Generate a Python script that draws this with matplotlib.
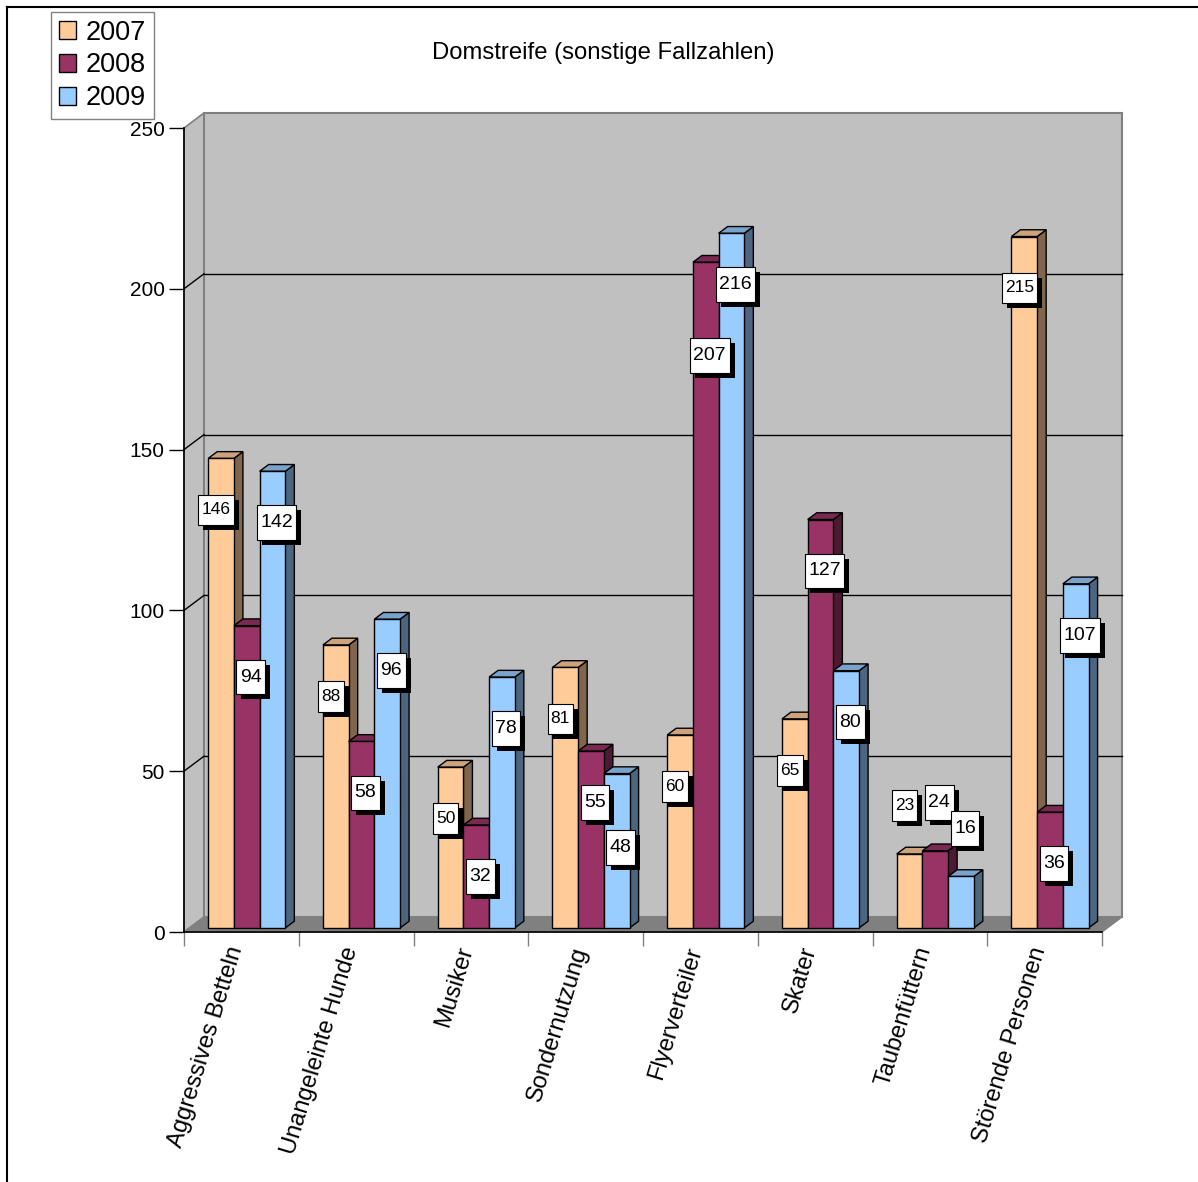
import matplotlib
matplotlib.use("Agg")
import matplotlib.pyplot as plt
from matplotlib.patches import Polygon, Patch
from matplotlib.lines import Line2D
from matplotlib.path import Path
from matplotlib.transforms import blended_transform_factory
import matplotlib.patheffects as pe

plt.rcParams['font.family'] = ['Liberation Sans', 'DejaVu Sans']

# === Data
categories = ["Aggressives Betteln", "Unangeleinte Hunde", "Musiker", "Sondernutzung",
              "Flyerverteiler", "Skater", "Taubenfüttern", "Störende Personen"]
years = ["2007", "2008", "2009"]
cases_2007 = [146, 88, 50, 81, 60, 65, 23, 215]
cases_2008 = [94, 58, 32, 55, 207, 127, 24, 36]
cases_2009 = [142, 96, 78, 48, 216, 80, 16, 107]
y_ticks = [0, 50, 100, 150, 200, 250]

series = [cases_2007, cases_2008, cases_2009]
front_colors = ["#FFCC99", "#993366", "#99CCFF"]
top_colors = ["#CCA37A", "#7A2952", "#7AA3CC"]
side_colors = ["#80664D", "#4D1A33", "#4D6680"]

W, H = 1198, 1182
fig = plt.figure(figsize=(W / 100, H / 100), dpi=100)
ax = fig.add_axes([184 / W, 1 - 932 / H, 918 / W, 804 / H])
ax.set_xlim(0, 8)
ax.set_ylim(0, 250)
ax.patch.set_alpha(0)

# depth of the 3d box in data units
DX = 20 / 114.75
DY = 15 / 3.216
F0, FD = 0.27, 0.45     # bars sit between these depth fractions
BW = 0.224              # bar width
n = len(categories)


def label_box(x0, y0, width, height, mutation_size):
    # rectangle with more room above/below than left/right
    px, py = 0.18 * mutation_size, 0.45 * mutation_size
    return Path([(x0 - px, y0 - py), (x0 + width + px, y0 - py),
                 (x0 + width + px, y0 + height + py), (x0 - px, y0 + height + py),
                 (x0 - px, y0 - py)], closed=True)


# === Walls and floor
wall = "#C0C0C0"
edge = "#808080"
ax.add_patch(Polygon([(0, 0), (DX, DY), (DX, 250 + DY), (0, 250)], closed=True,
                     facecolor=wall, edgecolor=edge, lw=1.2, clip_on=False, zorder=0.5))
ax.add_patch(Polygon([(DX, DY), (n + DX, DY), (n + DX, 250 + DY), (DX, 250 + DY)], closed=True,
                     facecolor=wall, edgecolor=edge, lw=1.5, clip_on=False, zorder=0.5))
ax.add_patch(Polygon([(0, 0), (n, 0), (n + DX, DY), (DX, DY)], closed=True,
                     facecolor="#808080", edgecolor=edge, lw=1, clip_on=False, zorder=0.6))
for v in y_ticks[1:-1]:
    ax.plot([DX, n + DX], [v + DY, v + DY], color="black", lw=1, clip_on=False, zorder=0.7)
    ax.plot([0, DX], [v, v + DY], color="black", lw=1, clip_on=False, zorder=0.7)

# === Bars (front face, right side, top)
dx, dy = FD * DX, FD * DY
y0 = F0 * DY
label_specs = []
for i in range(n):
    lab_y = []
    for j, vals in enumerate(series):
        v = vals[i]
        x0 = i + (1 - 3 * BW) / 2 + j * BW + F0 * DX
        side = [(x0 + BW, y0), (x0 + BW + dx, y0 + dy), (x0 + BW + dx, y0 + v + dy), (x0 + BW, y0 + v)]
        top = [(x0, y0 + v), (x0 + dx, y0 + v + dy), (x0 + BW + dx, y0 + v + dy), (x0 + BW, y0 + v)]
        ax.add_patch(Polygon(side, closed=True, facecolor=side_colors[j], edgecolor="black",
                             lw=1, zorder=3, clip_on=False))
        ax.add_patch(Polygon(top, closed=True, facecolor=top_colors[j], edgecolor="black",
                             lw=1, zorder=3, clip_on=False))
        ax.bar(x0, v, width=BW, bottom=y0, align="edge", color=front_colors[j],
               edgecolor="black", lw=1, zorder=3, clip_on=False)
        lab_y.append(v - 16 if v >= 30 else v + 15)
    # push the lower neighbour down when two labels collide
    for j in range(2):
        a, b = j, j + 1
        va, vb = series[a][i], series[b][i]
        if va >= 30 and vb >= 30 and abs(lab_y[a] - lab_y[b]) < 11:
            if va < vb:
                lab_y[a] = lab_y[b] - 22
            else:
                lab_y[b] = lab_y[a] - 14
    for j, vals in enumerate(series):
        x0 = i + (1 - 3 * BW) / 2 + j * BW + F0 * DX
        shift = -5 / 114.75 if j == 0 else 4 / 114.75
        label_specs.append((x0 + BW / 2 + shift, y0 + lab_y[j], str(vals[i]), 12.5 if j == 0 else 14))

# === Value labels, white box with a hard black drop shadow
shadow = [pe.SimplePatchShadow(offset=(3.6, -3.6), shadow_rgbFace="black", alpha=1.0), pe.Normal()]
for x, y, s, fs in label_specs:
    t = ax.text(x, y, s, ha="center", va="center", fontsize=fs, color="black", zorder=10,
                bbox=dict(boxstyle=label_box, facecolor="white", edgecolor="black", lw=0.8))
    t.get_bbox_patch().set_path_effects(shadow)

# === Axes
for side in ["top", "right"]:
    ax.spines[side].set_visible(False)
ax.spines["left"].set_linewidth(1.2)
ax.spines["bottom"].set_linewidth(1.2)
ax.spines["left"].set_zorder(2)
ax.spines["bottom"].set_zorder(2)
ax.set_yticks(y_ticks)
ax.tick_params(axis="y", length=10.8, width=1, labelsize=15, pad=3)
ax.set_xticks(range(n + 1))
ax.set_xticklabels([])
ax.tick_params(axis="x", length=10, width=1, color="#808080")

trans = blended_transform_factory(ax.transData, ax.transAxes)
for i, name in enumerate(categories):
    ax.text(i + 0.5 - 0.04, -0.019, name, transform=trans, rotation=73, rotation_mode="anchor",
            ha="right", va="center", fontsize=17)

# === Title, legend, frame
fig.text(603 / W, 1 - 53 / H, "Domstreife (sonstige Fallzahlen)", ha="center", va="center", fontsize=17.2)

handles = [Patch(facecolor=c, edgecolor="black") for c in front_colors]
fig.legend(handles, years, loc="upper left", bbox_to_anchor=(51 / W, 1 - 12 / H), frameon=True,
           fancybox=False, edgecolor="#606060", fontsize=19.5, handlelength=0.65, handleheight=0.65,
           borderpad=0.28, labelspacing=0.25, handletextpad=0.35, borderaxespad=0)

fig.add_artist(Line2D([6.5 / W, 6.5 / W], [0, 1 - 7 / H], color="black", lw=1.5))
fig.add_artist(Line2D([6.5 / W, 1], [1 - 7 / H, 1 - 7 / H], color="black", lw=1.5))

fig.savefig("out.png", dpi=100)
